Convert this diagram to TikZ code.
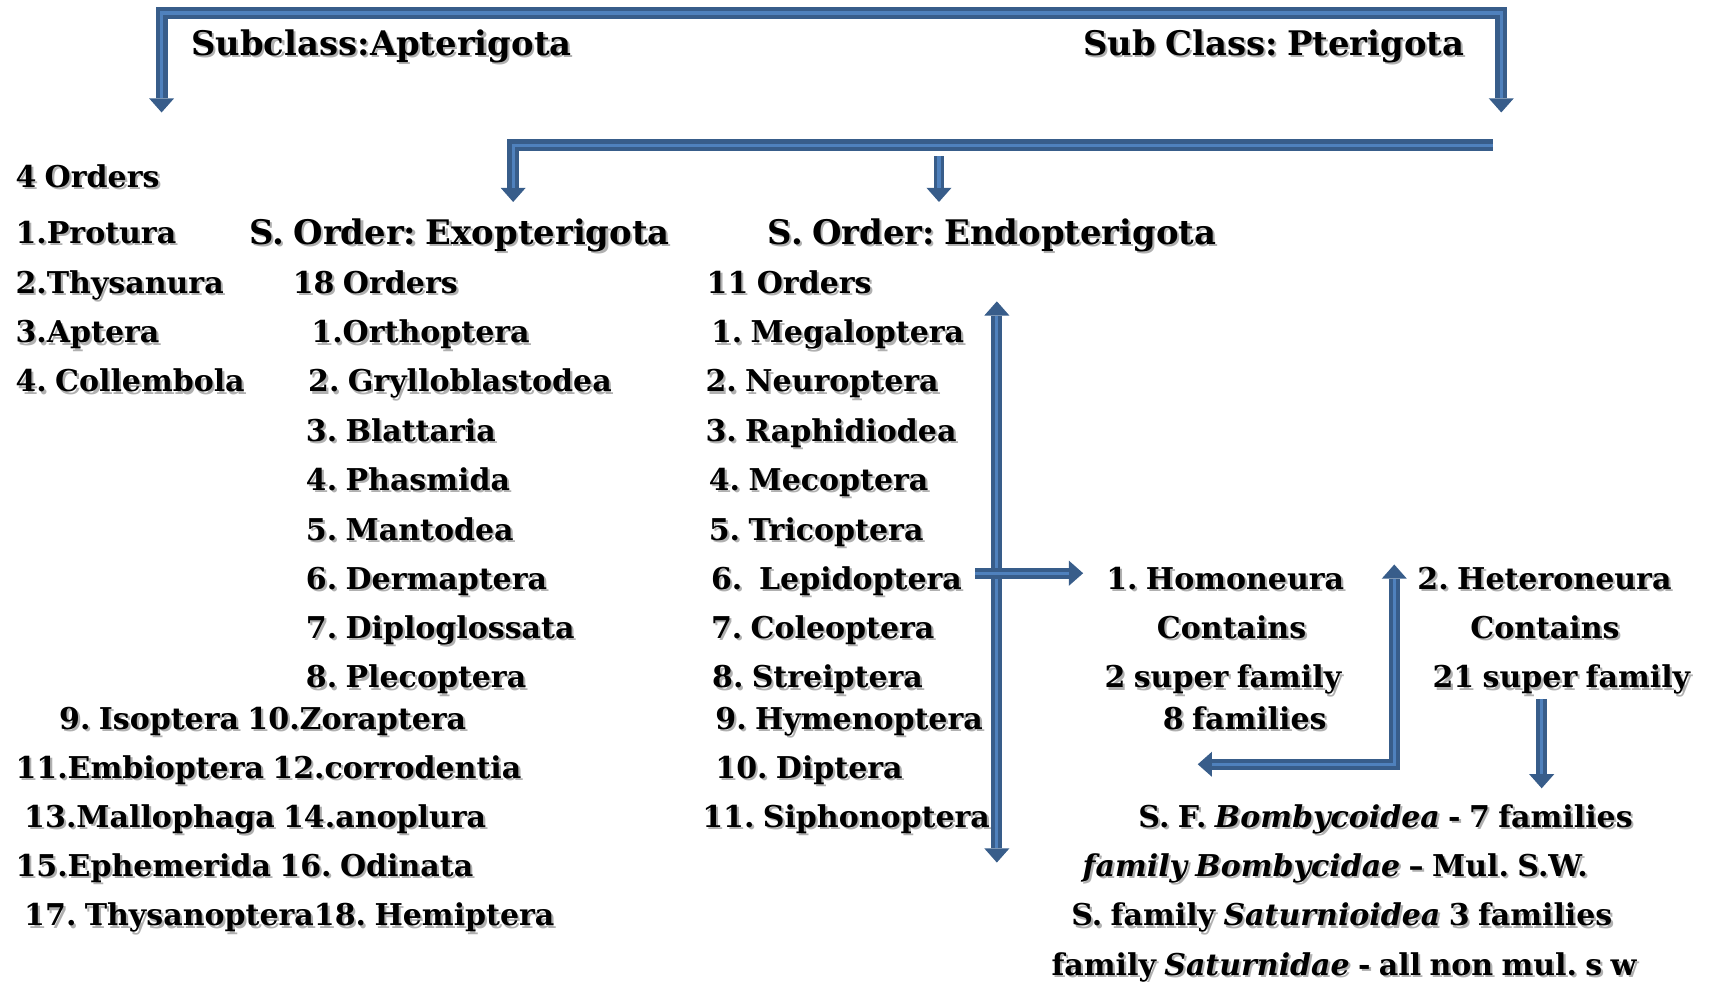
\documentclass[tikz,border=0pt]{standalone}
\usepackage{fontspec}
\setmainfont{DejaVuSerif}[Extension=.ttf, UprightFont=*-Bold, BoldFont=*-Bold, ItalicFont=*-BoldItalic, BoldItalicFont=*-BoldItalic, WordSpace=0.8]
\usetikzlibrary{arrows.meta}
\frenchspacing

\definecolor{arrline}{HTML}{385D8A}
\definecolor{arrfill}{HTML}{4F81BD}
\definecolor{shadowgray}{HTML}{B0B0B0}

% text with a soft grey shadow
\newcommand{\shd}[1]{\rlap{\kern2pt\raisebox{-2pt}{\color{shadowgray}#1}}#1}

\tikzset{blk/.tip={Triangle[length=13pt,width=23pt,line width=0pt]}}

\begin{document}
\begin{tikzpicture}[
      x=1pt, y=-1pt,
      itm/.style={anchor=west, inner sep=0pt, text height=20pt, text depth=0pt, font=\fontsize{27.5}{32}\selectfont},
      hdr/.style={itm, text height=22pt, font=\fontsize{31}{36}\selectfont},
      ctr/.style={itm, anchor=center},
      arr/.style={draw=arrline, line width=10pt, -{blk}, postaction={draw=arrfill, line width=3pt, -, shorten >=13pt}},
      arrboth/.style={draw=arrline, line width=10pt, {blk}-{blk}, postaction={draw=arrfill, line width=3pt, -, shorten >=13pt, shorten <=13pt}}
    ]
    \useasboundingbox (0,0) rectangle (1568,899);

    % subclasses
    \node[hdr] (subapt) at (175,40) {\shd{Subclass:Apterigota}};
    \node[hdr] (subpt) at (992,40) {\shd{Sub Class: Pterigota}};

    % Apterigota
    \node[itm] (ord4) at (14,162) {\shd{4 Orders}};
    \node[itm] (protura) at (14,213) {\shd{1.Protura}};
    \node[itm] (thysanura) at (14,259) {\shd{2.Thysanura}};
    \node[itm] (aptera) at (14,304) {\shd{3.Aptera}};
    \node[itm] (collembola) at (14,349) {\shd{4. Collembola}};

    % Exopterigota
    \node[hdr] (exo) at (228,213) {\shd{S. Order: Exopterigota}};
    \node[itm] (exo18) at (268,259) {\shd{18 Orders}};
    \node[itm] (orth) at (285,304) {\shd{1.Orthoptera}};
    \node[itm] (gryl) at (282,349) {\shd{2. Grylloblastodea}};
    \node[itm] (blat) at (280,394) {\shd{3. Blattaria}};
    \node[itm] (phas) at (280,439) {\shd{4. Phasmida}};
    \node[itm] (mant) at (280,485) {\shd{5. Mantodea}};
    \node[itm] (derm) at (280,530) {\shd{6. Dermaptera}};
    \node[itm] (dipl) at (280,575) {\shd{7. Diploglossata}};
    \node[itm] (plec) at (280,620) {\shd{8. Plecoptera}};
    \node[itm] (isozor) at (54,658) {\shd{9. Isoptera 10.Zoraptera}};
    \node[itm] (embcor) at (14,703) {\shd{11.Embioptera 12.corrodentia}};
    \node[itm] (malano) at (22,748) {\shd{13.Mallophaga 14.anoplura}};
    \node[itm] (ephodi) at (14,793) {\shd{15.Ephemerida 16. Odinata}};
    \node[itm] (thyhem) at (22,838) {\shd{17. Thysanoptera18. Hemiptera}};

    % Endopterigota
    \node[hdr] (endo) at (703,213) {\shd{S. Order: Endopterigota}};
    \node[itm] (endo11) at (647,259) {\shd{11 Orders}};
    \node[itm] (mega) at (651,304) {\shd{1. Megaloptera}};
    \node[itm] (neur) at (646,349) {\shd{2. Neuroptera}};
    \node[itm] (raph) at (646,394) {\shd{3. Raphidiodea}};
    \node[itm] (meco) at (649,439) {\shd{4. Mecoptera}};
    \node[itm] (tric) at (649,485) {\shd{5. Tricoptera}};
    \node[itm] (lepi) at (651,530) {\shd{6.\ \ Lepidoptera}};
    \node[itm] (cole) at (651,575) {\shd{7. Coleoptera}};
    \node[itm] (stre) at (652,620) {\shd{8. Streiptera}};
    \node[itm] (hyme) at (655,658) {\shd{9. Hymenoptera}};
    \node[itm] (dipt) at (655,703) {\shd{10. Diptera}};
    \node[itm] (siph) at (643,748) {\shd{11. Siphonoptera}};

    % Lepidoptera
    \node[itm] (homo) at (1013,530) {\shd{1. Homoneura}};
    \node[ctr] (homoc) at (1128,575) {\shd{Contains}};
    \node[ctr] (homosf) at (1120,620) {\shd{2 super family}};
    \node[ctr] (homof) at (1140,658) {\shd{8 families}};
    \node[itm] (hetero) at (1298,530) {\shd{2. Heteroneura}};
    \node[ctr] (heteroc) at (1415,575) {\shd{Contains}};
    \node[ctr] (heterosf) at (1430,620) {\shd{21 super family}};
    \node[ctr] (bomb) at (1269,748) {\shd{S. F. \textit{Bombycoidea} - 7 families}};
    \node[ctr] (bombi) at (1223,793) {\shd{\textit{family Bombycidae} -- Mul. S.W.}};
    \node[ctr] (satu) at (1229,838) {\shd{S. family \textit{Saturnioidea} 3 families}};
    \node[ctr] (satun) at (1231,883) {\shd{family \textit{Saturnidae} - all non mul. s w}};

    % arrow ends
    \coordinate (ta) at (148,103);
    \coordinate (tr) at (1375,12);
    \coordinate (tp) at (1375,103);
    \coordinate (br) at (1367,133);
    \coordinate (bl) at (470,185);
    \coordinate (ms) at (860,143);
    \coordinate (me) at (860,185);
    \coordinate (vt) at (913,276);
    \coordinate (vb) at (913,790);
    \coordinate (hs) at (893,525);
    \coordinate (he) at (992,525);
    \coordinate (fl) at (1097,700);
    \coordinate (fu) at (1277,517);
    \coordinate (ds) at (1412,640);
    \coordinate (de) at (1412,722);

    \draw[arrboth, line width=11pt] (ta) |- (tr) -- (tp);
    \draw[arr, line width=11pt] (br) -| (bl);
    \draw[arr] (ms) -- (me);
    \draw[arrboth] (vt) -- (vb);
    \draw[arr] (hs) -- (he);
    \draw[arrboth] (fl) -| (fu);
    \draw[arr] (ds) -- (de);
  \end{tikzpicture}
\end{document}
